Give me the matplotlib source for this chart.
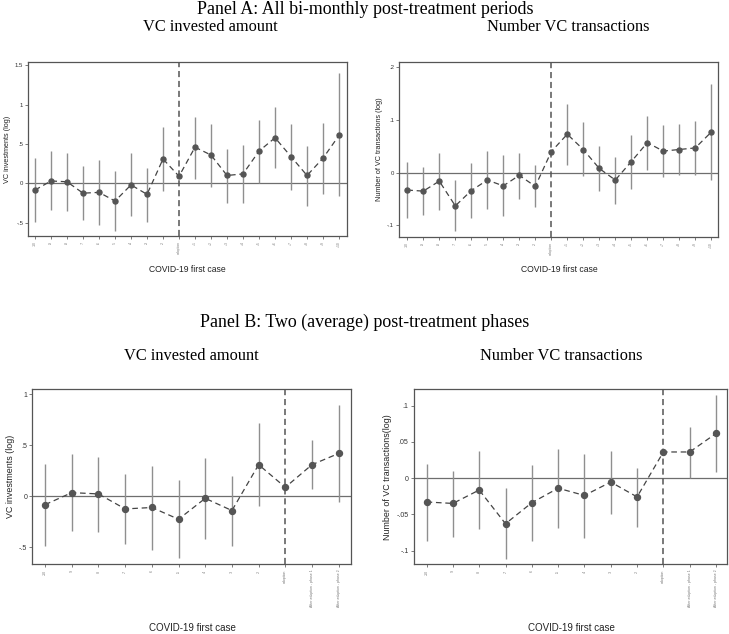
import matplotlib
matplotlib.use("Agg")
import matplotlib.pyplot as plt
import numpy as np

# ---------------- data ----------------
pre_labels = ["-10", "-9", "-8", "-7", "-6", "-5", "-4", "-3", "-2"]
post_labels_a = ["+1", "+2", "+3", "+4", "+5", "+6", "+7", "+8", "+9", "+10"]
labels_a = pre_labels + ["adoption"] + post_labels_a
labels_b = pre_labels + ["adoption", "After adoption - phase 1", "After adoption - phase 2"]

# Panel A, VC invested amount
amount_a = [-0.085, 0.03, 0.02, -0.125, -0.115, -0.225, -0.02, -0.14, 0.31, 0.09,
            0.46, 0.36, 0.10, 0.12, 0.41, 0.58, 0.34, 0.10, 0.32, 0.61]
amount_a_hi = [0.32, 0.41, 0.39, 0.22, 0.30, 0.16, 0.38, 0.20, 0.72, np.nan,
               0.85, 0.75, 0.44, 0.49, 0.81, 0.97, 0.76, 0.48, 0.77, 1.40]
amount_a_lo = [-0.49, -0.34, -0.35, -0.47, -0.53, -0.61, -0.42, -0.49, -0.10, np.nan,
               0.06, -0.05, -0.25, -0.25, 0.00, 0.19, -0.08, -0.29, -0.14, -0.16]

# Panel A, number of VC transactions
number_a = [-0.033, -0.035, -0.016, -0.063, -0.034, -0.014, -0.025, -0.005, -0.026, 0.040,
            0.073, 0.044, 0.008, -0.014, 0.021, 0.057, 0.041, 0.044, 0.047, 0.077]
number_a_hi = [0.020, 0.010, 0.037, -0.014, 0.018, 0.041, 0.034, 0.038, 0.015, np.nan,
               0.130, 0.096, 0.051, 0.029, 0.072, 0.108, 0.091, 0.092, 0.099, 0.168]
number_a_lo = [-0.086, -0.080, -0.071, -0.111, -0.086, -0.069, -0.083, -0.049, -0.066, np.nan,
               0.015, -0.007, -0.035, -0.059, -0.031, 0.006, -0.009, -0.005, -0.005, -0.014]

# Panel B, VC invested amount
amount_b = [-0.082, 0.036, 0.023, -0.124, -0.11, -0.225, -0.02, -0.14, 0.31, 0.088, 0.31, 0.42]
amount_b_hi = [0.32, 0.41, 0.39, 0.22, 0.30, 0.16, 0.38, 0.20, 0.72, np.nan, 0.55, 0.895]
amount_b_lo = [-0.49, -0.34, -0.35, -0.47, -0.53, -0.61, -0.42, -0.49, -0.10, np.nan, 0.075, -0.056]

# Panel B, number of VC transactions
number_b = [-0.033, -0.035, -0.0165, -0.063, -0.034, -0.014, -0.024, -0.0055, -0.026, 0.036, 0.036, 0.0615]
number_b_hi = [0.019, 0.010, 0.037, -0.014, 0.0175, 0.040, 0.0335, 0.038, 0.014, np.nan, 0.0705, 0.115]
number_b_lo = [-0.0865, -0.081, -0.0705, -0.111, -0.0865, -0.069, -0.083, -0.049, -0.067, np.nan, 0.0, 0.008]

yt_amount_a = [-0.5, 0, 0.5, 1, 1.5]
yt_amount_a_lbl = ["-.5", "0", ".5", "1", "1.5"]
yt_number_a = [-0.1, 0, 0.1, 0.2]
yt_number_a_lbl = ["-.1", "0", ".1", ".2"]
yt_amount_b = [-0.5, 0, 0.5, 1]
yt_amount_b_lbl = ["-.5", "0", ".5", "1"]
yt_number_b = [-0.1, -0.05, 0, 0.05, 0.1]
yt_number_b_lbl = ["-.1", "-.05", "0", ".05", ".1"]

# ---------------- figure ----------------
W, H = 729, 634
fig = plt.figure(figsize=(W / 100, H / 100), dpi=100)
fig.patch.set_facecolor("white")

SERIF = ["Liberation Serif", "DejaVu Serif"]
SANS = ["Liberation Sans", "DejaVu Sans"]

DOT = "#555555"
CI = "#8f8f8f"
FRAME = "#555555"


def make_axes(x0, y0, x1, y1):
    return fig.add_axes([x0 / W, 1 - y1 / H, (x1 - x0) / W, (y1 - y0) / H])


def draw(ax, labels, y, lo, hi, ylim, yt, ytl, ylabel, ms, tick_fs, ylab_fs, ytick_fs, adopt):
    x = np.arange(len(labels))
    ax.axhline(0, color="#6e6e6e", lw=0.9, zorder=1)
    ax.axvline(adopt, color="#555555", lw=1.1, ls=(0, (4, 2.5)), zorder=2)
    ax.vlines(x, lo, hi, color=CI, lw=1.0, zorder=3)
    ax.plot(x, y, color="#444444", lw=0.9, ls=(0, (4.5, 3)), zorder=4)
    ax.plot(x, y, ls="none", marker="o", ms=ms, color=DOT, mec=DOT, zorder=5)
    ax.set_ylim(*ylim)
    ax.set_xticks(x)
    ax.set_xticklabels(labels, rotation=90, fontsize=tick_fs, color="#777777", family=SANS)
    ax.set_yticks(yt)
    ax.set_yticklabels(ytl, fontsize=ytick_fs, color="#333333", family=SANS)
    ax.tick_params(axis="both", length=2.2, width=0.6, color="#666666", pad=1.5)
    ax.set_ylabel(ylabel, fontsize=ylab_fs, family=SANS, color="#222222", labelpad=3)
    for s in ax.spines.values():
        s.set_color(FRAME)
        s.set_linewidth(0.9)


def xlabel(xc, yc, fs):
    fig.text(xc / W, 1 - yc / H, "COVID-19 first case", ha="center", va="center",
             fontsize=fs, family=SANS, color="#222222")


# Panel A
axA1 = make_axes(28.3, 62.3, 346.7, 236)
draw(axA1, labels_a, amount_a, amount_a_lo, amount_a_hi, (-0.67, 1.54),
     yt_amount_a, yt_amount_a_lbl, "VC investments (log)", 3.6, 2.4, 5.2, 4.3, 9)
axA1.set_xlim(-0.42, 19.48)
xlabel(187.5, 269, 6.2)

axA2 = make_axes(399.3, 62.3, 718.3, 236.7)
draw(axA2, labels_a, number_a, number_a_lo, number_a_hi, (-0.1215, 0.2095),
     yt_number_a, yt_number_a_lbl, "Number of VC transactions (log)", 3.6, 2.4, 5.2, 4.3, 9)
axA2.set_xlim(-0.5, 19.44)
xlabel(559, 269, 6.2)

# Panel B
axB1 = make_axes(32.3, 389, 350.7, 564.3)
draw(axB1, labels_b, amount_b, amount_b_lo, amount_b_hi, (-0.667, 1.052),
     yt_amount_b, yt_amount_b_lbl, "VC investments (log)", 4.3, 2.5, 6.4, 5.0, 9)
axB1.set_xlim(-0.48, 11.45)
xlabel(192, 628, 7.0)

axB2 = make_axes(413.7, 389, 727.3, 564.3)
draw(axB2, labels_b, number_b, number_b_lo, number_b_hi, (-0.119, 0.1229),
     yt_number_b, yt_number_b_lbl, "Number of VC transactions(log)", 4.3, 2.5, 6.4, 5.0, 9)
axB2.set_xlim(-0.49, 11.43)
xlabel(571, 628, 7.0)

# titles
fig.text(365 / W, 1 - 9 / H, "Panel A: All bi-monthly post-treatment periods",
         ha="center", va="center", fontsize=12.9, family=SERIF)
fig.text(210 / W, 1 - 27 / H, "VC invested amount", ha="center", va="center", fontsize=11.8, family=SERIF)
fig.text(568 / W, 1 - 27 / H, "Number VC transactions", ha="center", va="center", fontsize=11.8, family=SERIF)

fig.text(365 / W, 1 - 322 / H, "Panel B: Two (average) post-treatment phases",
         ha="center", va="center", fontsize=12.9, family=SERIF)
fig.text(191 / W, 1 - 356 / H, "VC invested amount", ha="center", va="center", fontsize=11.8, family=SERIF)
fig.text(561 / W, 1 - 356 / H, "Number VC transactions", ha="center", va="center", fontsize=11.8, family=SERIF)

fig.savefig("out.png", dpi=100, facecolor="white")
